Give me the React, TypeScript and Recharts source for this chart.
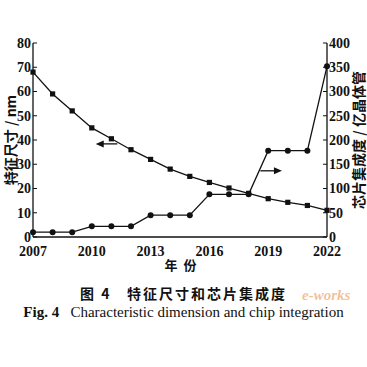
import { Line, LineChart, ReferenceLine, XAxis, YAxis } from "recharts";

const YEARS = [2007, 2008, 2009, 2010, 2011, 2012, 2013, 2014, 2015, 2016, 2017, 2018, 2019, 2020, 2021, 2022];
const FEATURE_SIZE = [68, 59, 52, 45, 40.5, 36, 32, 28, 25, 22.5, 20.2, 18, 15.8, 14.3, 13, 11];
const INTEGRATION = [10, 10, 10, 22, 22, 22, 45, 45, 45, 88, 88, 88, 178, 178, 178, 352];
const X_TICKS = [2007, 2010, 2013, 2016, 2019, 2022];
const LEFT_TICKS = [0, 10, 20, 30, 40, 50, 60, 70, 80];
const RIGHT_TICKS = [0, 50, 100, 150, 200, 250, 300, 350, 400];

const data = YEARS.map((year, i) => ({
  year,
  size: FEATURE_SIZE[i],
  chips: INTEGRATION[i],
}));

const SERIF = '"Liberation Serif", "DejaVu Serif", serif';
const CJK = '"Noto Sans CJK SC", sans-serif';
const tickStyle = { fontFamily: SERIF, fontSize: 14, fontWeight: 700, fill: "#111" };

function Square(props: any) {
  const { cx, cy } = props;
  if (cx == null || cy == null) return null;
  return <rect x={cx - 2.6} y={cy - 2.6} width={5.2} height={5.2} fill="#111" />;
}

function Dot(props: any) {
  const { cx, cy } = props;
  if (cx == null || cy == null) return null;
  return <circle cx={cx} cy={cy} r={3} fill="#111" />;
}

// annotation arrow pointing from the first to the second segment point
function Arrow(props: any) {
  const { x1, y1, x2, y2 } = props;
  const dir = x2 > x1 ? 1 : -1;
  return (
    <g>
      <line x1={x1} y1={y1} x2={x2 - dir * 6} y2={y2} stroke="#111" strokeWidth={1.3} />
      <path d={`M${x2},${y2} L${x2 - dir * 8},${y2 - 3.5} L${x2 - dir * 8},${y2 + 3.5} Z`} fill="#111" />
    </g>
  );
}

export default function App() {
  return (
    <div style={{ position: "absolute", left: 0, top: 0, width: 367, height: 367, background: "#fff", overflow: "hidden" }}>
      <LineChart width={367} height={260} data={data} margin={{ top: 43, right: 0, bottom: 0, left: 0 }}>
        <XAxis
          dataKey="year"
          type="number"
          domain={[2007, 2022]}
          ticks={X_TICKS}
          tickLine={false}
          axisLine={{ stroke: "#111", strokeWidth: 1.3 }}
          tick={tickStyle}
          tickMargin={3}
          height={23}
        />
        <YAxis
          yAxisId="left"
          domain={[0, 80]}
          ticks={LEFT_TICKS}
          tickSize={-4}
          tickMargin={6}
          tickLine={{ stroke: "#111" }}
          axisLine={{ stroke: "#111", strokeWidth: 1.3 }}
          tick={tickStyle}
          width={33}
          interval={0}
        />
        <YAxis
          yAxisId="right"
          orientation="right"
          domain={[0, 400]}
          ticks={RIGHT_TICKS}
          tickSize={-4}
          tickMargin={6}
          tickLine={{ stroke: "#111" }}
          axisLine={{ stroke: "#111", strokeWidth: 1.3 }}
          tick={tickStyle}
          width={40}
          interval={0}
        />
        <ReferenceLine
          yAxisId="left"
          segment={[{ x: 2011.3, y: 38.4 }, { x: 2010.2, y: 38.4 }]}
          shape={Arrow}
        />
        <ReferenceLine
          yAxisId="left"
          segment={[{ x: 2018.6, y: 27.3 }, { x: 2019.7, y: 27.3 }]}
          shape={Arrow}
        />
        <Line
          yAxisId="left"
          dataKey="size"
          type="linear"
          stroke="#111"
          strokeWidth={1.3}
          dot={<Square />}
          isAnimationActive={false}
        />
        <Line
          yAxisId="right"
          dataKey="chips"
          type="linear"
          stroke="#111"
          strokeWidth={1.3}
          dot={<Dot />}
          isAnimationActive={false}
        />
      </LineChart>
      <div
        style={{
          position: "absolute",
          left: 10,
          top: 140,
          transform: "translate(-50%, -50%) rotate(-90deg)",
          whiteSpace: "nowrap",
          fontFamily: CJK,
          fontSize: 14,
          fontWeight: 700,
          color: "#111",
        }}
      >
        特征尺寸 / nm
      </div>
      <div
        style={{
          position: "absolute",
          left: 358,
          top: 140,
          transform: "translate(-50%, -50%) rotate(-90deg)",
          whiteSpace: "nowrap",
          fontFamily: CJK,
          fontSize: 14,
          fontWeight: 700,
          color: "#111",
        }}
      >
        芯片集成度 / 亿晶体管
      </div>
      <div
        style={{
          position: "absolute",
          left: 0,
          width: 367,
          top: 255,
          textAlign: "center",
          fontFamily: CJK,
          fontSize: 13,
          fontWeight: 700,
          color: "#111",
          letterSpacing: 6,
        }}
      >
        年份
      </div>
      <div
        style={{
          position: "absolute",
          left: 0,
          width: 367,
          top: 283,
          textAlign: "center",
          fontFamily: CJK,
          fontSize: 14,
          fontWeight: 700,
          color: "#111",
          whiteSpace: "pre",
          letterSpacing: 2,
        }}
      >
        {"图 4   特征尺寸和芯片集成度"}
      </div>
      <div
        style={{
          position: "absolute",
          left: 0,
          width: 367,
          top: 304,
          textAlign: "center",
          fontFamily: SERIF,
          fontSize: 15,
          color: "#111",
          whiteSpace: "pre",
        }}
      >
        <b>Fig. 4</b>
        {"   Characteristic dimension and chip integration"}
      </div>
      <div
        style={{
          position: "absolute",
          left: 302,
          top: 287,
          fontFamily: SERIF,
          fontStyle: "italic",
          fontWeight: 700,
          fontSize: 15,
          color: "rgba(230,140,60,0.55)",
        }}
      >
        e-works
      </div>
    </div>
  );
}
